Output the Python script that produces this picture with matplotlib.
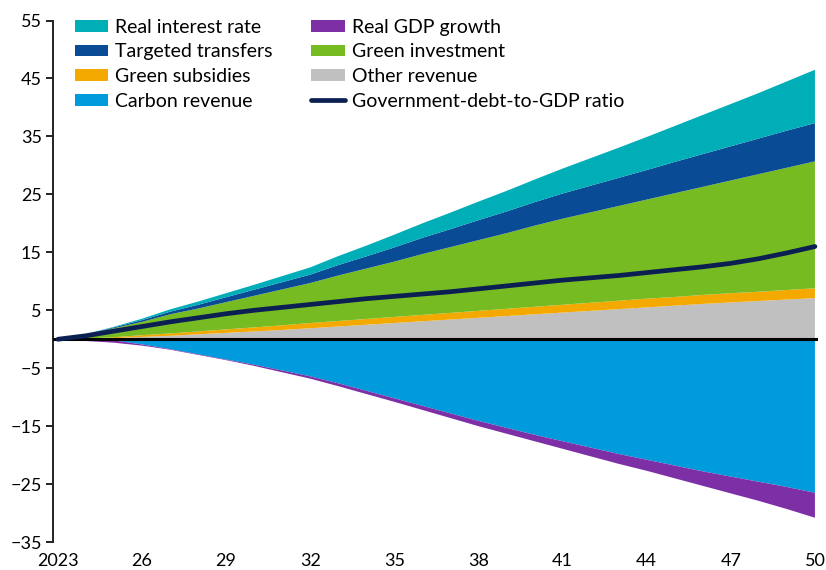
import matplotlib.pyplot as plt
import numpy as np

# annual points, 2023-2050 (percent of GDP)
years = list(range(2023, 2051))

other_revenue = [0, 0.05, 0.2, 0.4, 0.6, 0.85, 1.1, 1.35, 1.6, 1.9, 2.2, 2.5, 2.8, 3.1,
                 3.4, 3.7, 4.0, 4.3, 4.6, 4.9, 5.2, 5.5, 5.8, 6.1, 6.35, 6.6, 6.85, 7.1]
green_subsidies = [0, 0.05, 0.15, 0.3, 0.4, 0.5, 0.6, 0.7, 0.8, 0.9, 0.95, 1.0, 1.05, 1.1,
                   1.15, 1.2, 1.25, 1.3, 1.35, 1.4, 1.45, 1.5, 1.5, 1.55, 1.6, 1.6, 1.65, 1.7]
green_investment = [0, 0.7, 1.55, 2.3, 3.3, 3.95, 4.7, 5.45, 6.2, 6.9, 7.85, 8.7, 9.55, 10.5,
                    11.35, 12.2, 13.05, 14.0, 14.85, 15.6, 16.35, 17.1, 17.9, 18.65, 19.45, 20.3, 21.1, 21.9]
targeted_transfers = [0, 0.05, 0.15, 0.3, 0.45, 0.65, 0.85, 1.05, 1.25, 1.45, 1.8, 2.1, 2.45, 2.8,
                      3.1, 3.45, 3.75, 4.05, 4.35, 4.6, 4.85, 5.1, 5.4, 5.65, 5.9, 6.15, 6.4, 6.6]
real_interest = [0, 0.05, 0.1, 0.25, 0.4, 0.55, 0.7, 0.85, 1.05, 1.25, 1.55, 1.85, 2.2, 2.5,
                 2.85, 3.2, 3.55, 3.9, 4.3, 4.75, 5.2, 5.7, 6.2, 6.75, 7.3, 7.85, 8.5, 9.2]
carbon_revenue = [0, 0, -0.2, -0.9, -1.7, -2.6, -3.5, -4.4, -5.4, -6.4, -7.6, -8.9, -10.2, -11.5,
                  -12.8, -14.1, -15.3, -16.5, -17.6, -18.7, -19.8, -20.8, -21.8, -22.8, -23.7, -24.6, -25.5, -26.5]
real_gdp_growth = [0, -0.3, -0.4, -0.2, -0.1, -0.1, -0.1, -0.2, -0.3, -0.4, -0.5, -0.55, -0.6, -0.7,
                   -0.8, -0.9, -1.0, -1.1, -1.3, -1.5, -1.7, -1.9, -2.2, -2.5, -2.9, -3.3, -3.8, -4.3]
debt_ratio = [0, 0.6, 1.4, 2.2, 3.0, 3.7, 4.4, 5.0, 5.5, 6.0, 6.5, 7.0, 7.4, 7.8,
              8.2, 8.7, 9.2, 9.7, 10.2, 10.6, 11.0, 11.5, 12.0, 12.5, 13.1, 13.9, 14.9, 16.0]

tick_years = list(range(2023, 2051, 3))
tick_labels = ['2023'] + [str(y % 100) for y in tick_years[1:]]

colors = {
    'Real interest rate': '#00aeb8',
    'Targeted transfers': '#0a4b96',
    'Green subsidies': '#f4a900',
    'Carbon revenue': '#009bdd',
    'Real GDP growth': '#7d2fa6',
    'Green investment': '#76bb22',
    'Other revenue': '#c0c0c0',
    'Government-debt-to-GDP ratio': '#0b1f52',
}

plt.rcParams['font.family'] = ['Lato', 'DejaVu Sans']

fig = plt.figure(figsize=(8.26, 5.70), dpi=100)
ax = fig.add_axes([0.064, 0.049, 0.926, 0.915])

pos = ax.stackplot(years, other_revenue, green_subsidies, green_investment,
                   targeted_transfers, real_interest,
                   colors=[colors['Other revenue'], colors['Green subsidies'],
                           colors['Green investment'], colors['Targeted transfers'],
                           colors['Real interest rate']],
                   linewidth=0)
neg = ax.stackplot(years, carbon_revenue, real_gdp_growth,
                   colors=[colors['Carbon revenue'], colors['Real GDP growth']],
                   linewidth=0)

ax.axhline(0, color='black', lw=2.2, zorder=3)
line, = ax.plot(years, debt_ratio, color=colors['Government-debt-to-GDP ratio'],
                lw=3.4, zorder=4, solid_capstyle='round')

ax.set_xlim(2022.82, 2050.1)
ax.set_ylim(-35, 55)
ax.set_yticks(np.arange(-35, 56, 10))
ax.set_xticks(tick_years)
ax.set_xticklabels(tick_labels)

for s in ['top', 'right', 'bottom']:
    ax.spines[s].set_visible(False)
ax.spines['left'].set_linewidth(1.4)
ax.spines['left'].set_color('#222222')
ax.tick_params(axis='y', direction='out', length=5, width=1.4, color='#222222',
               labelsize=13, pad=3)
ax.tick_params(axis='x', length=0, labelsize=13, pad=8)

# legend: column order as in the reference
handles = [pos[4], pos[3], pos[1], neg[0], neg[1], pos[2], pos[0], line]
labels = ['Real interest rate', 'Targeted transfers', 'Green subsidies', 'Carbon revenue',
          'Real GDP growth', 'Green investment', 'Other revenue', 'Government-debt-to-GDP ratio']
leg = fig.legend(handles, labels, ncol=2, loc='upper left', frameon=False,
                 bbox_to_anchor=(0.0908, 0.9675), fontsize=14, handlelength=1.7,
                 handleheight=0.55, handletextpad=0.36, labelspacing=0.4,
                 columnspacing=2.0, borderpad=0, borderaxespad=0)

fig.savefig('out.png', dpi=100)
